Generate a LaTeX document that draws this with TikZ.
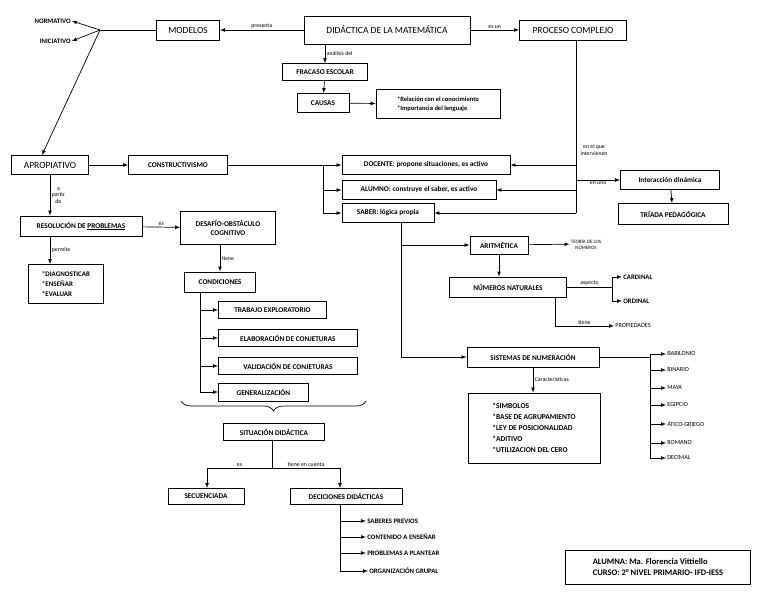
\documentclass[tikz,border=0pt]{standalone}
\usepackage{fontspec}
\setmainfont{Carlito}
\usetikzlibrary{decorations.pathreplacing}

\begin{document}
\begin{tikzpicture}[
    x=1pt, y=-1pt, >=latex, line width=0.7pt,
    bx/.style={draw, line width=0.9pt, inner sep=1pt, font=\bfseries\fontsize{7.3}{8.5}\selectfont},
    big/.style={bx, font=\fontsize{9.5}{11}\selectfont},
    item/.style={inner sep=1pt, font=\bfseries\fontsize{6.8}{8}\selectfont},
    thin item/.style={inner sep=1pt, font=\fontsize{6.2}{7}\selectfont},
    lbl/.style={inner sep=1.5pt, font=\fontsize{5.8}{6.5}\selectfont}
    ]
\useasboundingbox (0,0) rectangle (768,594);
% top row
\node[big, minimum width=166, minimum height=28] (did) at (387,30) {DID\'ACTICA DE LA MATEM\'ATICA\\[-3pt]\mbox{}};
\node[big, align=center, minimum width=63, minimum height=20] (mod) at (188,30) {MODELOS};
\node[big, minimum width=107, minimum height=20] (proc) at (573,30) {PROCESO COMPLEJO};
\node[item, anchor=east] (norm) at (72,21) {NORMATIVO};
\node[item, anchor=east] (inic) at (72,41) {INICIATIVO};
\coordinate (jm) at (100,30);
\draw[->] (did) -- node[lbl,above]{presenta} (mod);
\draw[->] (did) -- node[lbl,above]{es un} (proc);
\draw (mod) -- (jm);
\draw[->] (jm) -- (norm.east);
\draw[->] (jm) -- (inic.east);
% fracaso
\node[bx, minimum width=85, minimum height=17] (fra) at (325,72) {FRACASO ESCOLAR};
\node[bx, minimum width=52, minimum height=19] (cau) at (323,103) {CAUSAS};
\node[bx, align=left, minimum width=124, minimum height=29, font=\bfseries\fontsize{6.5}{9}\selectfont] (causas) at (438,104) {*Relaci\'on con el conocimiento\\*Importancia del lenguaje};
\draw[->] (fra|-did.south) -- node[lbl,right]{an\'alisis del} (fra);
\draw[->] (fra) -- (cau);
\draw[->] (cau) -- (causas);
% constructivismo
\node[big, minimum width=77, minimum height=19] (apro) at (50,165) {APROPIATIVO};
\node[bx, minimum width=99, minimum height=19] (cons) at (178,165) {CONSTRUCTIVISMO};
\node[bx, minimum width=168, minimum height=19] (doc) at (426,165) {DOCENTE: propone situaciones, es activo};
\node[bx, minimum width=154, minimum height=19] (alu) at (419,190) {ALUMNO: construye el saber, es activo};
\node[bx, minimum width=92, minimum height=19] (sab) at (388,213) {SABER: l\'ogica propia};
\draw[->] (jm) -- ([xshift=-8pt]apro.north);
\draw[->] (apro) -- (cons);
\coordinate (jc) at (323,165);
\draw (cons) -- (jc);
\draw[->] (jc) -- (doc);
\draw[->] (jc) |- (alu);
\draw[->] (jc) |- (sab);
% proceso
\node[bx, minimum width=99, minimum height=19] (inter) at (670,180) {Interacci\'on din\'amica};
\node[bx, minimum width=110, minimum height=21] (tri) at (673,214) {TR\'IADA PEDAG\'OGICA};
\coordinate (pt) at (576,40);
\coordinate (jp) at (576,213);
\draw (pt) -- (jp);
\draw[->] (pt|-doc) -- (doc);
\draw[->] (pt|-alu) -- (alu);
\draw[->] (jp) -- (sab);
\draw[->] (pt|-inter) -- node[lbl,below]{en una} (inter);
\node[lbl, align=center] (intv) at (594,150) {en el que\\intervienen};
\draw[->] (inter) -- (tri);
% resolucion
\node[bx, minimum width=122, minimum height=20] (res) at (81,226) {RESOLUCI\'ON DE \underline{PROBLEMAS}};
\node[bx, align=center, minimum width=95, minimum height=33] (des) at (228,228) {DESAF\'IO-OBST\'ACULO\\COGNITIVO};
\node[bx, align=left, minimum width=75, minimum height=39, font=\bfseries\fontsize{7}{10}\selectfont] (lst) at (66,284) {*DIAGNOSTICAR\\*ENSE\~NAR\\*EVALUAR};
\draw[->] (apro.south) -- node[lbl,right,align=center]{a\\partir\\de} (apro.south |- res.north);
\draw[->] (res) -- node[lbl,above]{es} (des);
\draw[->] (apro.south |- res.south) -- node[lbl,right]{permite} (apro.south |- lst.north);
% condiciones
\node[bx, minimum width=71, minimum height=20] (con) at (220,282) {CONDICIONES};
\node[bx, minimum width=108, minimum height=17, anchor=west] (trab) at (218,310) {TRABAJO EXPLORATORIO};
\node[bx, minimum width=139, minimum height=17, anchor=west] (elab) at (218,338) {ELABORACI\'ON DE CONJETURAS};
\node[bx, minimum width=139, minimum height=17, anchor=west] (val) at (218,366) {VALIDACI\'ON DE CONJETURAS};
\node[bx, minimum width=90, minimum height=18, anchor=west] (gen) at (218,392) {GENERALIZACI\'ON};
\draw[->] (con|-des.south) -- node[lbl,right]{tiene} (con);
\coordinate (jk) at (200,292);
\draw[->] (jk) |- (trab);
\draw[->] (jk) |- (elab);
\draw[->] (jk) |- (val);
\draw[->] (jk) |- (gen);
\draw[decorate, decoration={brace, amplitude=10pt}] (366,401) -- (181,401);
% situacion
\node[bx, minimum width=101, minimum height=17] (sit) at (274,432) {SITUACI\'ON DID\'ACTICA};
\node[bx, minimum width=76, minimum height=16] (sec) at (206,496) {SECUENCIADA};
\node[bx, minimum width=112, minimum height=16] (dec) at (346,496) {DECICIONES DID\'ACTICAS};
\coordinate (js) at (272,468);
\draw (sit.south -| js) -- (js);
\draw[->] (js) -- node[lbl,above]{es} (207,468) -- (207,488);
\draw[->] (js) -- node[lbl,above]{tiene en cuenta} (340,468) -- (340,488);
\node[item, anchor=west] (sp) at (366,521) {SABERES PREVIOS};
\node[item, anchor=west] (ce) at (366,537) {CONTENIDO A ENSE\~NAR};
\node[item, anchor=west] (pp) at (366,553) {PROBLEMAS A PLANTEAR};
\node[item, anchor=west] (og) at (368,571) {ORGANIZACI\'ON GRUPAL};
\coordinate (jd) at (340,504);
\draw[->] (jd) |- (sp);
\draw[->] (jd) |- (ce);
\draw[->] (jd) |- (pp);
\draw[->] (jd) |- (og);
% aritmetica
\node[bx, minimum width=58, minimum height=18] (ari) at (499,245) {ARITM\'ETICA};
\node[thin item, align=center, font=\fontsize{5}{6}\selectfont] (teo) at (586,244) {TEOR\'IA DE LOS\\N\'UMEROS};
\node[bx, minimum width=117, minimum height=20] (nat) at (508,287) {N\'UMEROS NATURALES};
\node[item, anchor=west] (card) at (622,277) {CARDINAL};
\node[item, anchor=west] (ord) at (622,301) {ORDINAL};
\node[thin item, anchor=west] (prop) at (614,326) {PROPIEDADES};
\coordinate (jv) at (401,223);
\draw[->] (jv) |- (ari);
\draw[->] (ari) -- (teo);
\draw[->] (ari.south) -- (ari.south |- nat.north);
\coordinate (ja) at (612,287);
\draw (nat) -- node[lbl,above]{aspecto} (ja);
\draw[->] (ja) |- (card);
\draw[->] (ja) |- (ord);
\coordinate (jn) at (555,297);
\draw[->] (jn) |- node[lbl,above,pos=0.75]{tiene} (prop);
% sistemas
\node[bx, minimum width=132, minimum height=20] (sis) at (533,357) {SISTEMAS DE NUMERACI\'ON};
\node[bx, align=left, minimum width=132, minimum height=70, font=\bfseries\fontsize{7.5}{11}\selectfont] (car) at (534,428) {*SIMBOLOS\\*BASE DE AGRUPAMIENTO\\*LEY DE POSICIONALIDAD\\*ADITIVO\\*UTILIZACION DEL CERO};
\draw[->] (jv) |- (sis);
\draw[->] (sis) -- node[lbl,right]{Caracter\'isticas} (sis.south |- car.north);
\coordinate (jy) at (650,357);
\draw (sis) -- (jy);
\foreach \nm/\yy/\txt in {bab/354/BABILONIO, bin/370/BINARIO, may/388/MAYA, egi/405/EGIPCIO, ati/424/\'ATICO-GRIEGO, rom/443/ROMANO, dcm/458/DECIMAL}{
  \node[thin item, anchor=west] (\nm) at (666,\yy) {\txt};
  \draw[->] (jy) |- (\nm);
}
% alumna
\node[bx, align=left, minimum width=185, minimum height=34, font=\bfseries\fontsize{8.5}{11}\selectfont] (alum) at (658,567) {ALUMNA: Ma. Florencia Vittiello\\CURSO: 2° NIVEL PRIMARIO- IFD-IESS};
\end{tikzpicture}
\end{document}
